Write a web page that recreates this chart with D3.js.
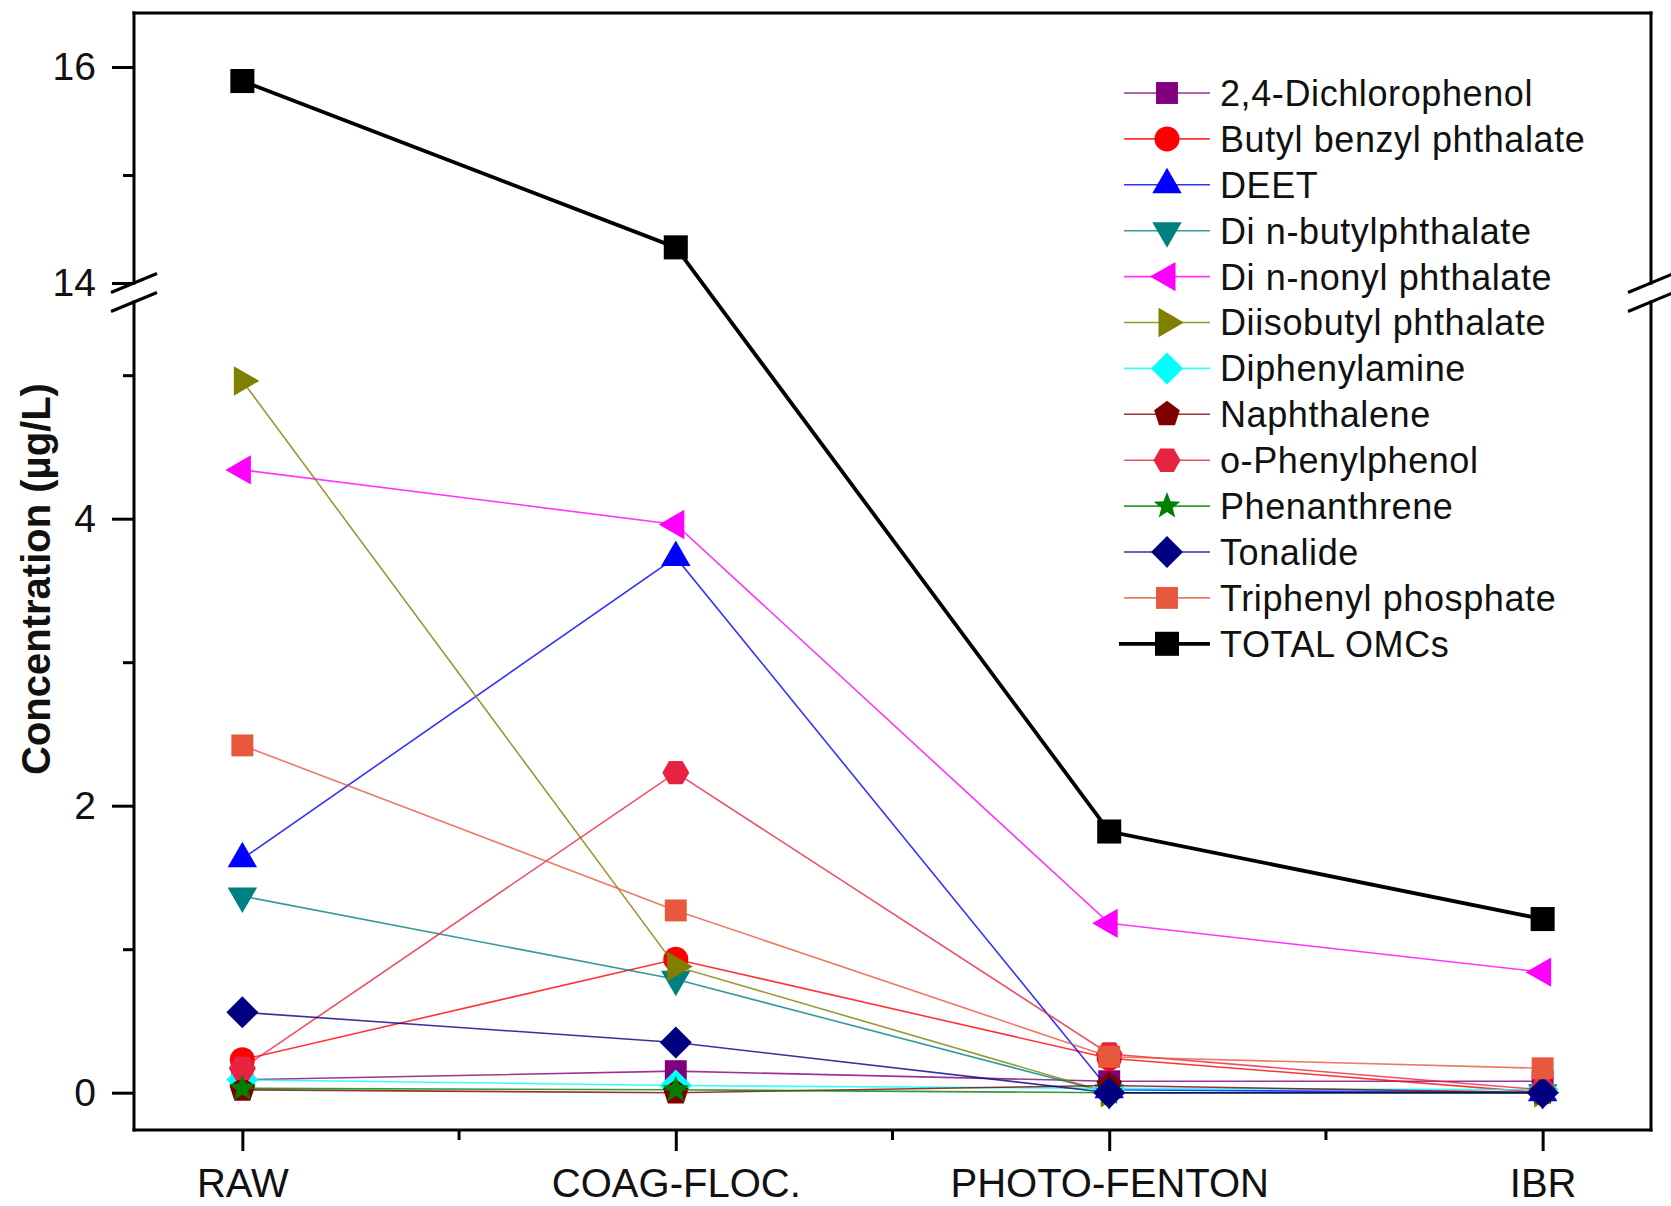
<!DOCTYPE html>
<html><head><meta charset="utf-8">
<script src="https://cdn.jsdelivr.net/npm/d3@7"></script>
<style>
body{margin:0;background:#fff}
svg{display:block}
text{font-family:"Liberation Sans",Arial,Helvetica,sans-serif;fill:#111}
</style>
</head><body>
<svg id="c" width="1671" height="1206"></svg>
<script>
// ---------------- DATA ----------------
const categories = ["RAW", "COAG-FLOC.", "PHOTO-FENTON", "IBR"];
const seriesNames = ["2,4-Dichlorophenol", "Butyl benzyl phthalate", "DEET", "Di n-butylphthalate",
  "Di n-nonyl phthalate", "Diisobutyl phthalate", "Diphenylamine", "Naphthalene",
  "o-Phenylphenol", "Phenanthrene", "Tonalide", "Triphenyl phosphate", "TOTAL OMCs"];
const dichlorophenol      = [0.09, 0.15, 0.08, 0.08];
const butylBenzylPhth     = [0.23, 0.93, 0.24, 0.00];
const deet                = [1.63, 3.73, 0.02, 0.00];
const diNButylPhth        = [1.37, 0.79, 0.00, 0.00];
const diNNonylPhth        = [4.34, 3.96, 1.18, 0.84];
const diisobutylPhth      = [4.96, 0.88, 0.00, 0.00];
const diphenylamine       = [0.09, 0.05, 0.03, 0.02];
const naphthalene         = [0.02, 0.00, 0.05, 0.00];
const oPhenylphenol       = [0.17, 2.23, 0.27, 0.02];
const phenanthrene        = [0.03, 0.02, 0.00, 0.00];
const tonalide            = [0.56, 0.35, 0.00, 0.00];
const triphenylPhosphate  = [2.42, 1.27, 0.25, 0.17];
const totalOMCs           = [15.87, 14.33, 1.82, 1.21];
const seriesValues = [dichlorophenol, butylBenzylPhth, deet, diNButylPhth, diNNonylPhth,
  diisobutylPhth, diphenylamine, naphthalene, oPhenylphenol, phenanthrene, tonalide,
  triphenylPhosphate, totalOMCs];
const majorTicks = [0, 2, 4, 14, 16];
const minorTicks = [1, 3, 5, 15];
const lowerRange = [-0.26, 5.51];
const upperRange = [14, 16.5];
const yTitle = "Concentration (µg/L)";

// ---------------- STYLES ----------------
const colors = ["#800080", "#ff0000", "#0000ff", "#008080", "#ff00ff", "#808000", "#00ffff",
  "#800000", "#e8233f", "#008000", "#000080", "#e8583c", "#000000"];
const shapes = ["square", "circle", "triUp", "triDown", "triLeft", "triRight", "diamond",
  "pentagon", "hexagon", "star", "diamond", "square", "square"];

// ---------------- LAYOUT ----------------
const L = 134, R = 1651, T = 13, B = 1130, brkUp = 283, brkLo = 302;
const svg = d3.select("#c");

const x = d3.scalePoint().domain(categories).range([L, R]).padding(0.25);
const y = d3.scaleLinear()
  .domain([lowerRange[0], lowerRange[1], upperRange[0], upperRange[1]])
  .range([B, brkLo, brkUp, T]);

function poly(n, r, rotDeg) {
  const pts = d3.range(n).map(i => {
    const a = (rotDeg + i * 360 / n) * Math.PI / 180;
    return [r * Math.cos(a), r * Math.sin(a)];
  });
  return "M" + pts.map(p => p[0].toFixed(2) + "," + p[1].toFixed(2)).join("L") + "Z";
}
function star(ro, ri) {
  const pts = d3.range(10).map(i => {
    const a = (-90 + i * 36) * Math.PI / 180, r = i % 2 ? ri : ro;
    return [r * Math.cos(a), r * Math.sin(a)];
  });
  return "M" + pts.map(p => p[0].toFixed(2) + "," + p[1].toFixed(2)).join("L") + "Z";
}
function shapePath(s, big) {
  switch (s) {
    case "square": return poly(4, big ? 17 : 15.5, 45);
    case "circle": return d3.symbol(d3.symbolCircle, Math.PI * 12.5 * 12.5)();
    case "triUp": return poly(3, 17, -90);
    case "triDown": return poly(3, 17, 90);
    case "triLeft": return poly(3, 17, 180);
    case "triRight": return poly(3, 17, 0);
    case "diamond": return poly(4, 16, 0);
    case "pentagon": return poly(5, 13.5, -90);
    case "hexagon": return poly(6, 13.5, 0);
    case "star": return star(14, 6);
  }
}

// ---------------- SERIES ----------------
const line = d3.line().x((d, i) => x(categories[i])).y(d => y(d));
const gPlot = svg.append("g");
seriesValues.forEach((vals, si) => {
  const isTotal = si === seriesValues.length - 1;
  const g = gPlot.append("g");
  g.append("path").attr("d", line(vals)).attr("fill", "none")
    .attr("stroke", colors[si]).attr("stroke-width", isTotal ? 3.8 : 1.6)
    .attr("stroke-opacity", isTotal ? 1 : 0.8);
  g.selectAll("path.m").data(vals).join("path").attr("class", "m")
    .attr("d", shapePath(shapes[si], isTotal))
    .attr("transform", (d, i) => `translate(${x(categories[i])},${y(d)})`)
    .attr("fill", colors[si]);
});

// ---------------- AXES / FRAME ----------------
const axisG = svg.append("g").attr("stroke", "#000").attr("stroke-width", 3).attr("fill", "none");
[[L, T, R, T], [L, B, R, B], [L, T, L, brkUp], [L, brkLo, L, B], [R, T, R, brkUp], [R, brkLo, R, B]]
  .forEach(s => axisG.append("line").attr("x1", s[0]).attr("y1", s[1]).attr("x2", s[2]).attr("y2", s[3])
    .attr("stroke-linecap", "square"));
// break marks
[L, R].forEach(cx => {
  [brkUp, brkLo].forEach(cy => {
    axisG.append("line").attr("x1", cx - 23).attr("y1", cy + 9.5).attr("x2", cx + 23).attr("y2", cy - 9.5);
  });
});

const tickFont = "Liberation Sans, Arial, sans-serif";
const yAxis = svg.append("g").attr("transform", `translate(${L},0)`)
  .call(d3.axisLeft(y).tickValues(majorTicks).tickSize(22).tickPadding(16).tickFormat(d3.format("d")));
yAxis.select(".domain").remove();
yAxis.selectAll("line").attr("stroke-width", 3);
yAxis.selectAll("text").attr("font-size", 39).attr("font-family", tickFont).attr("fill", "#111");

const yMinor = svg.append("g").attr("transform", `translate(${L},0)`)
  .call(d3.axisLeft(y).tickValues(minorTicks).tickSize(11).tickFormat(""));
yMinor.select(".domain").remove();
yMinor.selectAll("line").attr("stroke-width", 3);

const xAxis = svg.append("g").attr("transform", `translate(0,${B})`)
  .call(d3.axisBottom(x).tickSize(21).tickPadding(18));
xAxis.select(".domain").remove();
xAxis.selectAll("line").attr("stroke-width", 3);
xAxis.selectAll("text").attr("font-size", 40).attr("font-family", tickFont).attr("fill", "#111");

// minor x ticks at midpoints between categories
const mids = d3.pairs(categories).map(p => (x(p[0]) + x(p[1])) / 2);
svg.append("g").selectAll("line").data(mids).join("line")
  .attr("x1", d => d).attr("x2", d => d).attr("y1", B).attr("y2", B + 10)
  .attr("stroke", "#000").attr("stroke-width", 3);

// y title
svg.append("text").attr("transform", `translate(50,579) rotate(-90)`)
  .attr("text-anchor", "middle").attr("font-weight", "bold").attr("font-size", 40).text(yTitle);

// ---------------- LEGEND ----------------
const legend = svg.append("g");
const legY0 = 93, legDy = 45.9, legX1 = 1124, legX2 = 1210, legMx = 1167, legTx = 1220;
seriesNames.forEach((name, si) => {
  const isTotal = si === seriesNames.length - 1;
  const cy = legY0 + si * legDy;
  legend.append("line").attr("x1", isTotal ? 1119 : legX1).attr("x2", legX2).attr("y1", cy).attr("y2", cy)
    .attr("stroke", colors[si]).attr("stroke-width", isTotal ? 3.8 : 1.6).attr("stroke-opacity", isTotal ? 1 : 0.8);
  legend.append("path").attr("d", shapePath(shapes[si], isTotal))
    .attr("transform", `translate(${legMx},${cy})`).attr("fill", colors[si]);
  legend.append("text").attr("x", legTx).attr("y", cy).attr("dy", "0.36em")
    .attr("font-size", 36).attr("letter-spacing", 0.6).text(name);
});
</script>
</body></html>
